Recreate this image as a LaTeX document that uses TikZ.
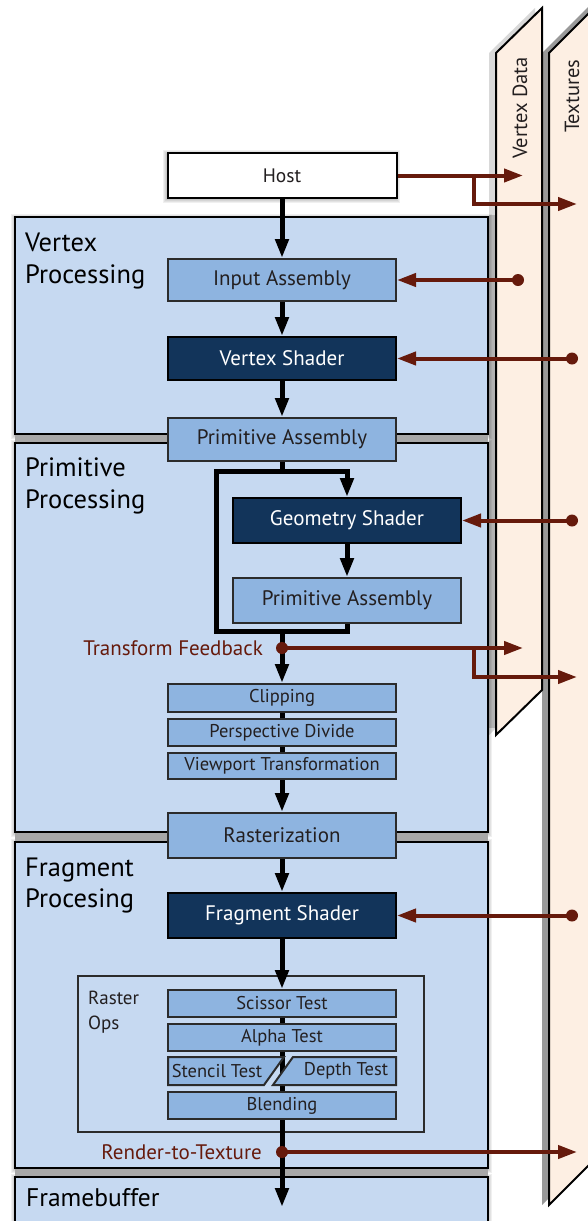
\documentclass[tikz,border=0pt]{standalone}
\usepackage{fontspec}
\setmainfont{PT Sans}
\usetikzlibrary{arrows.meta}
\definecolor{bgblue}{HTML}{C6D9F1}
\definecolor{midblue}{HTML}{8EB4E0}
\definecolor{navy}{HTML}{12345A}
\definecolor{bannerfill}{HTML}{FDEFE3}
\definecolor{darkred}{HTML}{661A0C}
\definecolor{boxborder}{HTML}{2B2B2B}
\definecolor{textdark}{HTML}{231F20}
\definecolor{gapgray}{HTML}{A8A8A8}
\newcommand{\softshade}[4]{\foreach \i in {1,2,3,4}{\fill[black,opacity=0.06] (#1-\i,#2-\i+1) rectangle (#3+\i,#4+\i+1);}}
\begin{document}
\begin{tikzpicture}[x=1pt,y=-1pt,
  container/.style={draw=black, line width=2.5pt, fill=bgblue, inner sep=0pt},
  stagebox/.style={draw=boxborder, line width=2pt, fill=midblue, text=textdark, font=\fontsize{21}{24}\selectfont, minimum width=228pt, inner sep=0pt},
  darkbox/.style={stagebox, draw=black, fill=navy, text=white},
  smallbox/.style={stagebox, font=\fontsize{18.5}{21}\selectfont},
  title/.style={anchor=base west, inner sep=0pt, text=black, font=\fontsize{26.5}{30}\selectfont},
  redlabel/.style={anchor=base east, inner sep=0pt, text=darkred, font=\fontsize{21}{24}\selectfont},
  bannerlabel/.style={rotate=90, anchor=base west, inner sep=0pt, text=textdark, font=\fontsize{20.5}{24}\selectfont},
  flowline/.style={draw=black, line width=5pt, line join=miter},
  flow/.style={flowline, -{Triangle[width=13pt,length=19pt]}},
  redline/.style={draw=darkred, line width=4pt, line join=miter},
  redarr/.style={redline, -{Triangle[width=13pt,length=19pt]}},
  reddot/.style={fill=darkred}
]
\useasboundingbox (0,0) rectangle (588,1221);
\clip (0,0) rectangle (588,1221);

% ---- banners ----
\fill[black!40] (542,53) -- (593,2) -- (593,1154) -- (542,1205) -- cycle;
\draw[line width=2pt, fill=bannerfill] (549,53) -- (600,2) -- (600,1154) -- (549,1205) -- cycle;
\fill[black!15] (489,53) -- (535,8) -- (535,690) -- (489,735) -- cycle;
\fill[black!30] (489,215) rectangle (496,728);
\draw[line width=2pt, fill=bannerfill] (496,53) -- (542,8) -- (542,690) -- (496,735) -- cycle;
\node[bannerlabel] (vdlabel) at (527,159) {Vertex Data};
\node[bannerlabel] (txlabel) at (579,133) {Textures};

% ---- shadows ----
\softshade{167}{153}{396}{198}
\softshade{15}{217}{488}{434}
\softshade{15}{443}{488}{832}
\softshade{15}{842}{488}{1168}
\softshade{15}{1177}{488}{1240}
\fill[gapgray] (15,433) rectangle (488,444);
\fill[gapgray] (15,831) rectangle (488,843);
\fill[gapgray] (15,1167) rectangle (488,1178);

% ---- containers ----
\node[container, minimum width=473pt, minimum height=217pt] (vp) at (251.5,325.5) {};
\node[container, minimum width=473pt, minimum height=389pt] (pp) at (251.5,637.5) {};
\node[container, minimum width=473pt, minimum height=326pt] (fp) at (251.5,1005) {};
\node[container, minimum width=473pt, minimum height=70pt] (fb) at (251.5,1212) {};

\node[title] (t1a) at (25,251) {Vertex};
\node[title] (t1b) at (25,283) {Processing};
\node[title] (t2a) at (25,476) {Primitive};
\node[title] (t2b) at (25,508) {Processing};
\node[title] (t3a) at (25,876) {Fragment};
\node[title] (t3b) at (25,907) {Procesing};
\node[title, font=\fontsize{25.5}{29}\selectfont] (t4) at (26,1206) {Framebuffer};

\node[draw=boxborder, line width=2pt, fill=bgblue, minimum width=346pt, minimum height=156pt, inner sep=0pt] (rops) at (251,1054) {};
\node[anchor=base west, inner sep=0pt, text=textdark, font=\fontsize{19}{22}\selectfont] (ro1) at (88,1004) {Raster};
\node[anchor=base west, inner sep=0pt, text=textdark, font=\fontsize{19}{22}\selectfont] (ro2) at (88,1029) {Ops};

% ---- coordinates ----
\coordinate (mt) at (282,471);
\coordinate (lt) at (216,471);
\coordinate (rt) at (347,471);
\coordinate (lb) at (216,631);
\coordinate (rb) at (347,631);
\coordinate (mb) at (282,631);
\coordinate (tf) at (282,648);
\coordinate (rtt) at (282,1152);
\coordinate (fbend) at (282,1207);

% ---- behind-box flow lines ----
\draw[flowline] (282,698) -- (282,766);
\draw[flowline] (282,1003) -- (282,1105);

% ---- stage boxes ----
\node[stagebox, fill=white, draw=black, minimum width=229pt, minimum height=45pt, font=\fontsize{19.5}{22}\selectfont] (host) at (282,175.5) {Host};
\node[stagebox, minimum height=42pt] (ia) at (282,280) {Input Assembly};
\node[darkbox, minimum height=43pt] (vs) at (282,358.5) {Vertex Shader};
\node[stagebox, minimum height=43pt] (pa1) at (282,439.5) {Primitive Assembly};
\node[darkbox, minimum height=45pt] (gs) at (347,520.5) {Geometry Shader};
\node[stagebox, minimum height=45pt] (pa2) at (347,600.5) {Primitive Assembly};
\node[smallbox, minimum height=28pt] (clip) at (282,698) {Clipping};
\node[smallbox, minimum height=27pt] (pdiv) at (282,732.5) {Perspective Divide};
\node[smallbox, minimum height=26pt] (vpt) at (282,766) {Viewport Transformation};
\node[stagebox, minimum height=45pt] (rast) at (282,835.5) {Rasterization};
\node[darkbox, minimum height=45pt] (fs) at (282,915.5) {Fragment Shader};
\node[smallbox, minimum height=27pt] (sc) at (282,1003.5) {Scissor Test};
\node[smallbox, minimum height=27pt] (at) at (282,1037.5) {Alpha Test};
\node[smallbox, minimum height=27pt] (bl) at (282,1105.5) {Blending};
\draw[draw=boxborder, line width=2pt, fill=midblue] (168,1057) -- (284,1057) -- (264,1085) -- (168,1085) -- cycle;
\draw[draw=boxborder, line width=2pt, fill=midblue] (293,1057) -- (396,1057) -- (396,1085) -- (273,1085) -- cycle;
\node[inner sep=0pt, text=textdark, font=\fontsize{18.5}{21}\selectfont] (st) at (217,1071) {Stencil Test};
\node[inner sep=0pt, text=textdark, font=\fontsize{18.5}{21}\selectfont] (dt) at (346,1071) {Depth Test};

% ---- black flow ----
\draw[flow] (host.south) -- (ia.north);
\draw[flow] (ia.south) -- (vs.north);
\draw[flow] (vs.south) -- (pa1.north);
\draw[flowline] (pa1.south) -- (mt);
\draw[flow] (pa2.south) -- (rb) -- (lb) -- (lt) -- (rt) -- (gs.north);
\draw[flow] (gs.south) -- (pa2.north);
\draw[flow] (mb) -- (clip.north);
\draw[flow] (vpt.south) -- (rast.north);
\draw[flow] (rast.south) -- (fs.north);
\draw[flow] (fs.south) -- (sc.north);
\draw[flow] (bl.south) -- (fbend);

% ---- red connectors ----
\coordinate (hbr) at (474,175.5);
\coordinate (hvd) at (523,175.5);
\coordinate (hbd) at (474,204);
\coordinate (htx) at (577,204);
\draw[redarr] (host.east) -- (hvd);
\draw[redarr] (hbr) -- (hbd) -- (htx);

\coordinate (iadot) at (518,280);
\coordinate (vsdot) at (572,358.5);
\coordinate (gsdot) at (572,520.5);
\coordinate (fsdot) at (572,915.5);
\draw[redarr] (iadot) -- (ia.east);
\draw[redarr] (vsdot) -- (vs.east);
\draw[redarr] (gsdot) -- (gs.east);
\draw[redarr] (fsdot) -- (fs.east);

\coordinate (tfbr) at (474,648);
\coordinate (tfvd) at (523,648);
\coordinate (tfbd) at (474,677);
\coordinate (tftx) at (577,677);
\draw[redarr] (tf) -- (tfvd);
\draw[redarr] (tfbr) -- (tfbd) -- (tftx);

\coordinate (rttx) at (577,1152);
\draw[redarr] (rtt) -- (rttx);

\foreach \p in {iadot,vsdot,gsdot,fsdot,tf,rtt} \fill[reddot] (\p) circle (6);

\node[redlabel] (tflabel) at (263,655) {Transform Feedback};
\node[redlabel] (rtlabel) at (262,1159) {Render-to-Texture};
\end{tikzpicture}
\end{document}
